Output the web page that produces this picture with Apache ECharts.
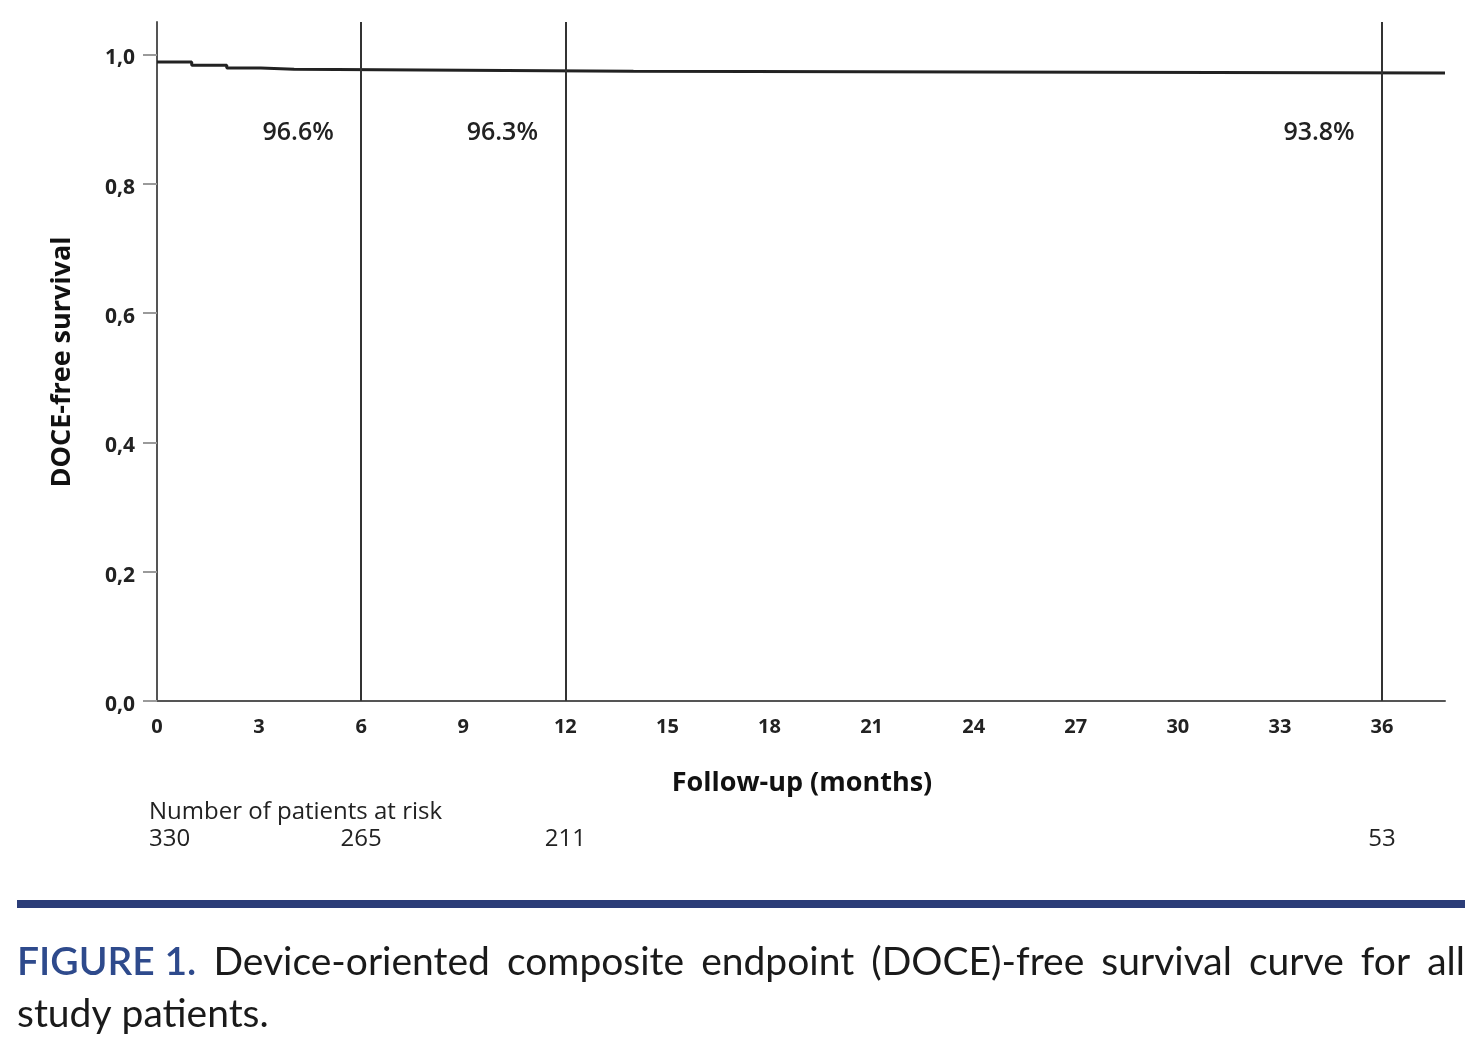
<!DOCTYPE html>
<html><head><meta charset="utf-8">
<script src="https://cdn.jsdelivr.net/npm/echarts@6/dist/echarts.min.js"></script>
<style>html,body{margin:0;padding:0;background:#fff;}#c{width:1480px;height:1048px;}</style>
</head><body><div id="c"></div>
<script>
// ---- data ----
const stepMonths = [0, 1.02, 2.05, 3.05, 4.03, 14.0, 37.85];
const survival   = [0.988, 0.983, 0.979, 0.977, 0.974, 0.971, 0.971];
const refMonths  = [6, 12, 36];
const refLabels  = ['96.6%', '96.3%', '93.8%'];
const atRiskMonths = [0, 6, 12, 36];
const atRisk       = [330, 265, 211, 53];
const xTickStep = 3;
const yTickStep = 0.2;
const xName = 'Follow-up (months)';
const yName = 'DOCE-free survival';
const riskTitle = 'Number of patients at risk';
const captionLead = 'FIGURE 1.';
const captionLine1 = 'Device-oriented composite endpoint (DOCE)-free survival curve for all';
const captionLine2 = 'study patients.';

const chart = echarts.init(document.getElementById('c'), null, {renderer: 'canvas'});
const AX = '#555';
const FONT = '"Open Sans", "Liberation Sans", sans-serif';

chart.setOption({
  animation: false,
  backgroundColor: '#fff',
  grid: {left: 157, right: 35, top: 22, bottom: 347},
  xAxis: {
    type: 'value', min: 0, max: stepMonths[stepMonths.length - 1], interval: xTickStep,
    axisLine: {show: true, lineStyle: {color: AX, width: 2}},
    axisTick: {show: false},
    splitLine: {show: false},
    axisLabel: {showMaxLabel: false, margin: 16, color: '#222', fontFamily: FONT, fontWeight: 'bold', fontSize: 20}
  },
  yAxis: {
    type: 'value', min: 0, max: 1.05, interval: yTickStep,
    axisLine: {show: true, lineStyle: {color: AX, width: 2}},
    axisTick: {show: true, length: 14, lineStyle: {color: '#9a9a9a', width: 2}},
    splitLine: {show: false},
    axisLabel: {showMaxLabel: false, margin: 22, color: '#222', fontFamily: FONT, fontWeight: 'bold', fontSize: 21,
      verticalAlign: 'top', lineHeight: 8,
      formatter: v => v.toFixed(1).replace('.', ',')}
  },
  series: [{
    type: 'line', step: 'end', symbol: 'none',
    data: stepMonths.map((m, i) => [m, survival[i]]),
    lineStyle: {color: '#222', width: 3},
    markLine: {
      silent: true, symbol: 'none', label: {show: false},
      lineStyle: {color: '#333', width: 2, type: 'solid'},
      data: refMonths.map(m => ({xAxis: m}))
    }
  }]
});

// ---- text overlays anchored to the axes ----
const ctx = document.createElement('canvas').getContext('2d');
function tw(text, font) { ctx.font = font; return ctx.measureText(text).width; }

const g = [];
const yLab = 133;
refMonths.forEach((m, i) => {
  const px = chart.convertToPixel({gridIndex: 0}, [m, 0])[0];
  g.push({type: 'text', style: {text: refLabels[i], x: px - 63, y: yLab, textAlign: 'center', textVerticalAlign: 'middle',
    font: '600 25px ' + FONT, fill: '#222'}});
});
// axis names
g.push({type: 'text', style: {text: xName, x: 802, y: 783, textAlign: 'center', textVerticalAlign: 'middle',
  font: 'bold 27px ' + FONT, fill: '#111'}});
g.push({type: 'text', rotation: Math.PI / 2, x: 62, y: 362, style: {text: yName, x: 0, y: 0, textAlign: 'center', textVerticalAlign: 'middle',
  font: 'bold 27px ' + FONT, fill: '#111'}});
// risk table
const riskLeft = 149;
const riskFont = '24px ' + FONT;
g.push({type: 'text', style: {text: riskTitle, x: riskLeft, y: 812, textAlign: 'left', textVerticalAlign: 'middle', font: riskFont, fill: '#222'}});
atRiskMonths.forEach((m, i) => {
  const px = chart.convertToPixel({gridIndex: 0}, [m, 0])[0];
  const t = String(atRisk[i]);
  const w = tw(t, riskFont);
  const left = px - w / 2 < riskLeft;
  g.push({type: 'text', style: {text: t, x: left ? riskLeft : px, y: 839, textAlign: left ? 'left' : 'center',
    textVerticalAlign: 'middle', font: riskFont, fill: '#222'}});
});
// caption rule
g.push({type: 'rect', shape: {x: 17, y: 900, width: 1448, height: 8}, style: {fill: '#2b3d78'}});
// caption: size font so the second line spans like the reference, justify the first line
const capFam = 'Lato, "Open Sans", sans-serif';
const capSize = Math.round(33 * 250 / tw(captionLine2, '33px ' + capFam));
const capFont = capSize + 'px ' + capFam;
const capLeadFont = '600 ' + capSize + 'px ' + capFam;
const capL = 17, capR = 1465, capY1 = 962, capY2 = 1014;
const words = captionLine1.split(' ');
const leadW = tw(captionLead, capLeadFont);
const wordsW = words.map(w => tw(w, capFont));
const totalW = leadW + wordsW.reduce((a, b) => a + b, 0);
const gap = (capR - capL - totalW) / words.length;
g.push({type: 'text', style: {text: captionLead, x: capL, y: capY1, textAlign: 'left', textVerticalAlign: 'middle', font: capLeadFont, fill: '#2e4a8c'}});
let cx = capL + leadW + gap;
words.forEach((w, i) => {
  g.push({type: 'text', style: {text: w, x: cx, y: capY1, textAlign: 'left', textVerticalAlign: 'middle', font: capFont, fill: '#1a1a1a'}});
  cx += wordsW[i] + gap;
});
g.push({type: 'text', style: {text: captionLine2, x: capL, y: capY2, textAlign: 'left', textVerticalAlign: 'middle', font: capFont, fill: '#1a1a1a'}});

chart.setOption({graphic: {elements: g}});
</script>
</body></html>
